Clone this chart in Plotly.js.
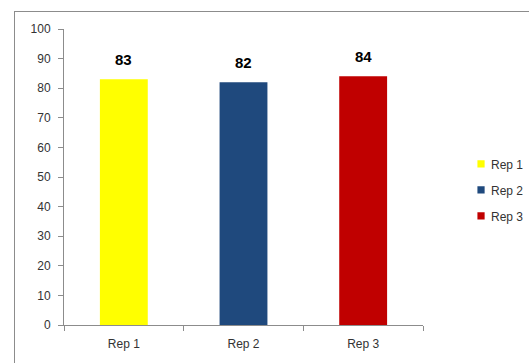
<!DOCTYPE html>
<html>
<head>
<meta charset="utf-8">
<script src="https://cdn.plot.ly/plotly-3.0.1.min.js"></script>
<style>
html, body { margin:0; padding:0; background:#fff; overflow:hidden; }
#frame { position:absolute; left:14px; top:11px; width:700px; height:500px; border:1px solid #8c8c8c; box-sizing:border-box; pointer-events:none; z-index:2; }
#chart { position:absolute; left:0; top:0; width:529px; height:363px; }
</style>
</head>
<body>
<div id="chart"></div>
<div id="frame"></div>
<script>
const categories = ["Rep 1", "Rep 2", "Rep 3"];
const values = [83, 82, 84];
const colors = ["#FFFF00", "#1F497D", "#C00000"];

const traces = categories.map((c, i) => ({
  type: "bar",
  name: c,
  legendgroup: "g" + i,
  x: [c],
  y: [values[i]],
  marker: { color: colors[i] },
  hoverinfo: "skip"
}));

const annotations = categories.map((c, i) => ({
  x: c, y: values[i], xref: "x", yref: "y",
  text: String(values[i]),
  showarrow: false,
  yanchor: "bottom",
  yshift: 9,
  font: { family: "Liberation Sans, Arial, sans-serif", size: 15, color: "#000", weight: "bold" }
}));

const layout = {
  width: 529, height: 363,
  margin: { l: 64, r: 106, t: 29, b: 38, autoexpand: false },
  paper_bgcolor: "#fff", plot_bgcolor: "#fff",
  barmode: "relative",
  bargap: 0.6,
  showlegend: true,
  font: { family: "Liberation Sans, Arial, sans-serif", size: 12, color: "#333" },
  xaxis: {
    type: "category",
    categoryorder: "array",
    categoryarray: categories,
    showline: true, linecolor: "#8c8c8c", linewidth: 1,
    ticks: "outside", ticklen: 5, tickcolor: "#8c8c8c",
    tickson: "boundaries",
    ticklabelstandoff: 8,
    showgrid: false, zeroline: false,
    tickfont: { size: 12, color: "#333" }
  },
  yaxis: {
    range: [0, 100], dtick: 10,
    showline: true, linecolor: "#8c8c8c", linewidth: 1,
    ticks: "outside", ticklen: 5, tickcolor: "#8c8c8c",
    ticklabelstandoff: 5,
    showgrid: false, zeroline: false,
    tickfont: { size: 12, color: "#333" }
  },
  legend: {
    xref: "container", yref: "container",
    x: 0.8526, xanchor: "left", y: 0.477, yanchor: "middle",
    traceorder: "grouped",
    tracegroupgap: 7,
    itemwidth: 30,
    font: { size: 12, color: "#333" },
    bgcolor: "rgba(0,0,0,0)"
  },
  annotations: annotations
};

Plotly.newPlot("chart", traces, layout, { displayModeBar: false, staticPlot: true }).then(() => {
  document.querySelectorAll(".legendpoints path").forEach(p => {
    p.setAttribute("transform", "translate(30,0) scale(0.6)");
  });
});
</script>
</body>
</html>
